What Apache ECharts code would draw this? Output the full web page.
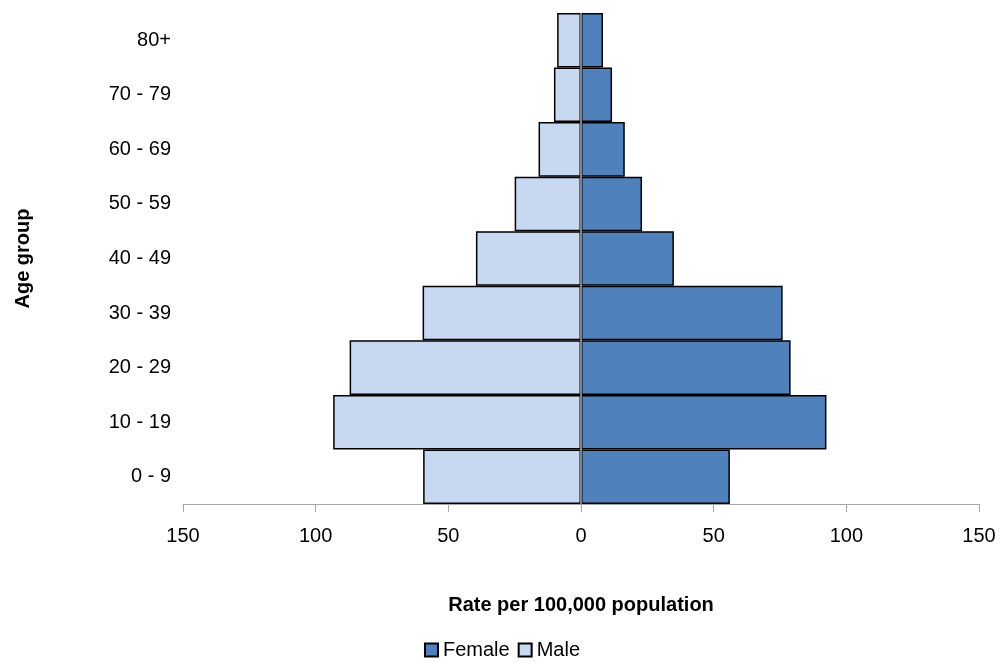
<!DOCTYPE html>
<html>
<head>
<meta charset="utf-8">
<script src="https://cdn.jsdelivr.net/npm/echarts@6/dist/echarts.min.js"></script>
</head>
<body style="margin:0">
<div id="main" style="width:1004px;height:667px;"></div>
<script>
var ageGroups = ['0 - 9', '10 - 19', '20 - 29', '30 - 39', '40 - 49', '50 - 59', '60 - 69', '70 - 79', '80+'];
var female = [56.1, 92.5, 79.0, 76.0, 35.0, 23.0, 16.5, 11.7, 8.3];
var male = [59.5, 93.4, 87.2, 59.7, 39.6, 25.0, 16.0, 10.2, 9.0];

var chart = echarts.init(document.getElementById('main'));
var font = 'Liberation Sans, Arial, sans-serif';
chart.setOption({
    animation: false,
    grid: {left: 183, right: 25, top: 13, bottom: 163},
    legend: {
        bottom: 2, left: 'center', itemWidth: 13, itemHeight: 13, itemGap: 8, icon: 'rect',
        textStyle: {fontFamily: font, fontSize: 20, color: '#000'},
        data: ['Female', 'Male']
    },
    xAxis: {
        type: 'value', min: -150, max: 150, interval: 50,
        name: 'Rate per 100,000 population', nameLocation: 'middle', nameGap: 91,
        nameTextStyle: {fontFamily: font, fontSize: 20, fontWeight: 'bold', color: '#000'},
        axisLine: {show: true, lineStyle: {color: '#a6a6a6'}},
        axisTick: {show: true, length: 8, lineStyle: {color: '#a6a6a6'}},
        splitLine: {show: false},
        axisLabel: {fontFamily: font, fontSize: 20, color: '#000', margin: 22,
            formatter: function (v) { return Math.abs(v); }}
    },
    yAxis: {
        type: 'category', data: ageGroups,
        name: 'Age group', nameLocation: 'middle', nameGap: 150, nameRotate: 90,
        nameTextStyle: {fontFamily: font, fontSize: 20, fontWeight: 'bold', color: '#000'},
        axisLine: {show: false, onZero: false}, axisTick: {show: false},
        axisLabel: {fontFamily: font, fontSize: 20, color: '#000', margin: 12}
    },
    series: [
        {
            name: 'Female', type: 'bar', stack: 'a', barCategoryGap: '0%',
            itemStyle: {color: '#4f81bd', borderColor: '#000', borderWidth: 1.5},
            data: female
        },
        {
            name: 'Male', type: 'bar', stack: 'a', barCategoryGap: '0%',
            itemStyle: {color: '#c6d9f1', borderColor: '#000', borderWidth: 1.5},
            data: male.map(function (v) { return -v; })
        },
        {
            type: 'line', silent: true, data: [],
            markLine: {symbol: 'none', silent: true, label: {show: false},
                lineStyle: {color: '#808080', type: 'solid', width: 2},
                data: [{xAxis: 0}]}
        }
    ]
});
</script>
</body>
</html>
